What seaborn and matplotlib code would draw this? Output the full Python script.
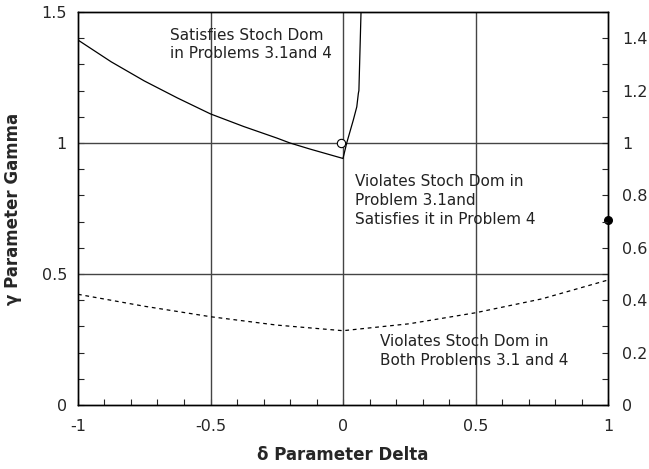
import numpy as np
import pandas as pd
import matplotlib
matplotlib.use('Agg')
import matplotlib.pyplot as plt
import seaborn as sns
from matplotlib.ticker import MultipleLocator

# boundary of "satisfies" region (solid)
upper_x = [-1.0, -0.875, -0.75, -0.625, -0.5, -0.375, -0.25, -0.2, -0.125, 0.0,
           0.014, 0.039, 0.052, 0.058, 0.06, 0.064, 0.068]
upper_y = [1.393, 1.31, 1.237, 1.172, 1.111, 1.063, 1.019, 1.0, 0.977, 0.941,
           1.0, 1.088, 1.138, 1.19, 1.2, 1.35, 1.5]

# boundary of "violates both" region (dashed)
lower_x = [-1.0, -0.75, -0.5, -0.25, 0.0, 0.25, 0.5, 0.75, 1.0]
lower_y = [0.4225, 0.377, 0.337, 0.305, 0.2836, 0.31, 0.352, 0.405, 0.477]

open_pt = (-0.008, 1.0)
filled_pt = (1.0, 0.706)

left_ticks = [0, 0.5, 1, 1.5]
left_labels = ['0', '0.5', '1', '1.5']
right_ticks = [0, 0.2, 0.4, 0.6, 0.8, 1.0, 1.2, 1.4]
right_labels = ['0', '0.2', '0.4', '0.6', '0.8', '1', '1.2', '1.4']
x_ticks = [-1, -0.5, 0, 0.5, 1]
x_labels = ['-1', '-0.5', '0', '0.5', '1']

sns.set_style('ticks')
plt.rcParams['font.family'] = ['DejaVu Sans']

fig = plt.figure(figsize=(6.49, 4.69), dpi=100)
ax = fig.add_axes([78 / 649, 1 - 405 / 469, 530 / 649, 393 / 469])

for gx in [-0.5, 0, 0.5]:
    ax.axvline(gx, color='#444444', lw=1.0, zorder=1)
for gy in [0.5, 1.0]:
    ax.axhline(gy, color='#444444', lw=1.0, zorder=1)

upper = pd.DataFrame({'x': upper_x, 'y': upper_y})
lower = pd.DataFrame({'x': lower_x, 'y': lower_y})
sns.lineplot(data=upper, x='x', y='y', sort=False, color='black', lw=0.9, ax=ax, zorder=3)
sns.lineplot(data=lower, x='x', y='y', sort=False, color='black', lw=0.9, ax=ax,
             linestyle=(0, (3, 3)), zorder=3)

ax.scatter([open_pt[0]], [open_pt[1]], s=36, facecolor='white', edgecolor='black',
           linewidth=0.8, zorder=5, clip_on=False)
ax.scatter([filled_pt[0]], [filled_pt[1]], s=30, color='black', zorder=5, clip_on=False)

ax.set_xlim(-1, 1)
ax.set_ylim(0, 1.5)
ax.set_xticks(x_ticks)
ax.set_xticklabels(x_labels)
ax.set_yticks(left_ticks)
ax.set_yticklabels(left_labels)
ax.xaxis.set_minor_locator(MultipleLocator(0.1))
ax.yaxis.set_minor_locator(MultipleLocator(0.1))
ax.tick_params(which='both', direction='in', length=4, width=0.8, labelsize=11.5, pad=8)
ax.tick_params(axis='x', pad=10)

ax2 = ax.twinx()
ax2.set_ylim(0, 1.5)
ax2.set_yticks(right_ticks)
ax2.set_yticklabels(right_labels)
ax2.yaxis.set_minor_locator(MultipleLocator(0.1))
ax2.tick_params(which='both', direction='in', length=4, width=0.8, labelsize=11.5, pad=10)

for a in (ax, ax2):
    for s in a.spines.values():
        s.set_linewidth(1.0)
        s.set_color('black')

ax.set_xlabel('δ Parameter Delta', fontsize=12, fontweight='bold', labelpad=9)
ax.set_ylabel('γ Parameter Gamma', fontsize=12, fontweight='bold', labelpad=14)

ax.text(-0.653, 1.44, 'Satisfies Stoch Dom\nin Problems 3.1and 4', fontsize=11,
        va='top', ha='left', color='#222222', linespacing=1.3)
ax.text(0.045, 0.88, 'Violates Stoch Dom in\nProblem 3.1and\nSatisfies it in Problem 4',
        fontsize=11, va='top', ha='left', color='#222222', linespacing=1.3)
ax.text(0.14, 0.27, 'Violates Stoch Dom in\nBoth Problems 3.1 and 4', fontsize=11,
        va='top', ha='left', color='#222222', linespacing=1.3)

fig.savefig('out.png', dpi=100)
